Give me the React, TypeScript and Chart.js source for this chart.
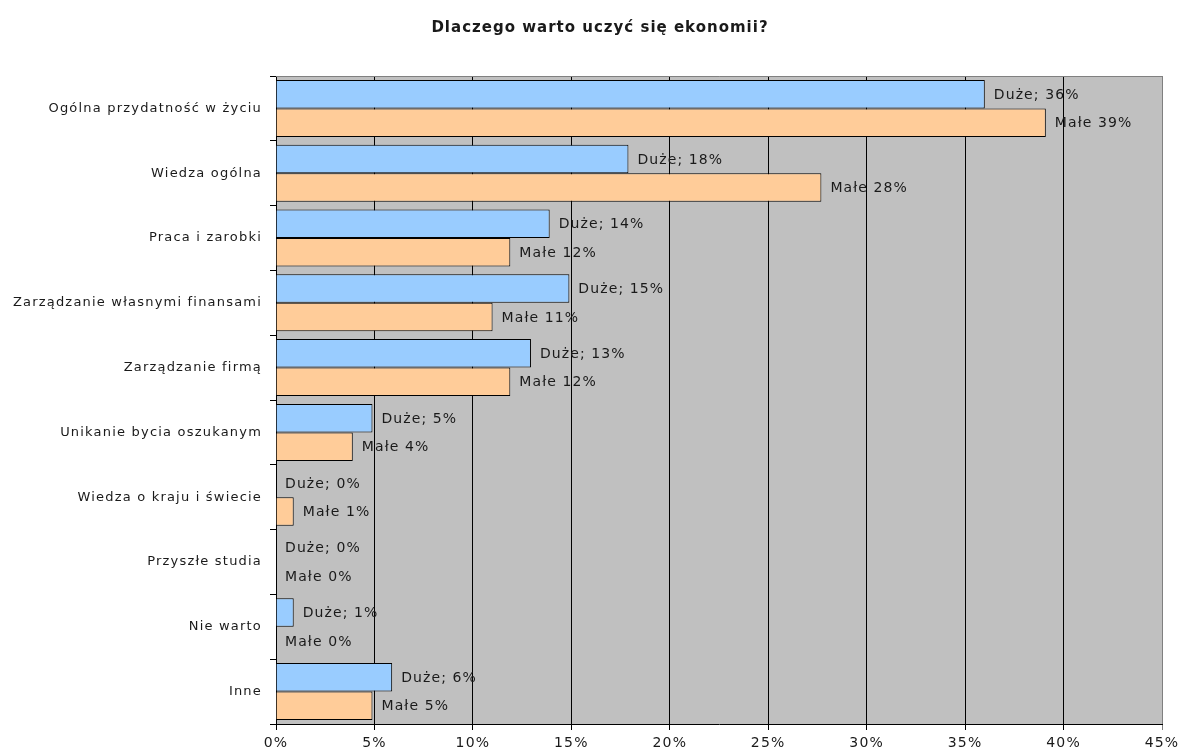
import React, { useEffect, useRef } from "react";
import { Chart, registerables } from "chart.js";

Chart.register(...registerables);

const title = "Dlaczego warto uczyć się ekonomii?";

const categories = [
  "Ogólna przydatność w życiu",
  "Wiedza ogólna",
  "Praca i zarobki",
  "Zarządzanie własnymi finansami",
  "Zarządzanie firmą",
  "Unikanie bycia oszukanym",
  "Wiedza o kraju i świecie",
  "Przyszłe studia",
  "Nie warto",
  "Inne",
];

const duzeValues = [36.0, 17.9, 13.9, 14.9, 12.95, 4.9, 0, 0, 0.9, 5.9];
const maleValues = [39.1, 27.7, 11.9, 11.0, 11.9, 3.9, 0.9, 0, 0, 4.9];

const duzeLabels = ["Duże; 36%", "Duże; 18%", "Duże; 14%", "Duże; 15%", "Duże; 13%", "Duże; 5%", "Duże; 0%", "Duże; 0%", "Duże; 1%", "Duże; 6%"];
const maleLabels = ["Małe 39%", "Małe 28%", "Małe 12%", "Małe 11%", "Małe 12%", "Małe 4%", "Małe 1%", "Małe 0%", "Małe 0%", "Małe 5%"];

const xTicks = [0, 5, 10, 15, 20, 25, 30, 35, 40, 45];

const FONT = "'DejaVu Sans', Verdana, sans-serif";

const plotBg = {
  id: "plotBg",
  beforeDraw(chart: any) {
    const { ctx, chartArea: a } = chart;
    (ctx as any).letterSpacing = "1.2px";
    ctx.save();
    ctx.fillStyle = "#c0c0c0";
    ctx.fillRect(a.left, a.top, a.right - a.left, a.bottom - a.top);
    ctx.restore();
  },
  afterDraw(chart: any) {
    const { ctx, chartArea: a } = chart;
    ctx.save();
    ctx.strokeStyle = "#808080";
    ctx.lineWidth = 1;
    ctx.beginPath();
    ctx.moveTo(a.left, a.top + 0.5);
    ctx.lineTo(a.right + 0.5, a.top + 0.5);
    ctx.lineTo(a.right + 0.5, a.bottom);
    ctx.stroke();
    (ctx as any).letterSpacing = "1px";
    ctx.font = `bold 15px ${FONT}`;
    ctx.fillStyle = "#1a1a1a";
    ctx.textAlign = "center";
    ctx.textBaseline = "middle";
    ctx.fillText(title, 600, 28);
    ctx.restore();
  },
};

const barLabels = {
  id: "barLabels",
  afterDatasetsDraw(chart: any) {
    const { ctx } = chart;
    ctx.save();
    (ctx as any).letterSpacing = "1.1px";
    ctx.font = `14px ${FONT}`;
    ctx.fillStyle = "#1a1a1a";
    ctx.textBaseline = "middle";
    ctx.textAlign = "left";
    const texts = [duzeLabels, maleLabels];
    chart.data.datasets.forEach((_: any, di: number) => {
      const meta = chart.getDatasetMeta(di);
      meta.data.forEach((bar: any, i: number) => {
        const x = Math.max(bar.x, bar.base) + 9;
        ctx.fillText(texts[di][i], x, bar.y + 1);
      });
    });
    ctx.restore();
  },
};

export default function App() {
  const ref = useRef<HTMLCanvasElement>(null);
  useEffect(() => {
    document.body.style.margin = "0";
    const chart = new Chart(ref.current!, {
      type: "bar",
      data: {
        labels: categories,
        datasets: [
          {
            label: "Duże",
            data: duzeValues,
            backgroundColor: "#99ccff",
            borderColor: "#000000",
            borderWidth: 1,
            barPercentage: 1,
            categoryPercentage: 0.88,
          },
          {
            label: "Małe",
            data: maleValues,
            backgroundColor: "#ffcc99",
            borderColor: "#000000",
            borderWidth: 1,
            barPercentage: 1,
            categoryPercentage: 0.88,
          },
        ],
      },
      options: {
        indexAxis: "y",
        animation: false,
        responsive: false,
        maintainAspectRatio: false,
        layout: { padding: { left: 0, right: 17, top: 76, bottom: 0 } },
        plugins: {
          legend: { display: false },
          tooltip: { enabled: false },
          title: { display: false },
        },
        scales: {
          x: {
            type: "linear",
            min: 0,
            max: 45,
            afterBuildTicks(scale: any) {
              scale.ticks = xTicks.map((v) => ({ value: v }));
            },
            afterFit(scale: any) {
              scale.height = 30;
              scale.paddingLeft = 0;
              scale.paddingRight = 0;
            },
            ticks: {
              callback: (v: any) => v + "%",
              color: "#1a1a1a",
              font: { family: FONT, size: 14 },
              padding: 5,
              maxRotation: 0,
            },
            grid: {
              color: (c: any) => (c.index === 9 ? "#808080" : "#000000"),
              lineWidth: 1,
              tickLength: 6,
              drawOnChartArea: true,
            },
            border: { display: true, color: "#000000" },
          },
          y: {
            type: "category",
            afterFit(scale: any) {
              scale.width = 276;
            },
            ticks: {
              color: "#1a1a1a",
              font: { family: FONT, size: 13 },
              padding: 8,
            },
            grid: {
              offset: true,
              drawOnChartArea: false,
              drawTicks: true,
              tickLength: 6,
              color: "#000000",
            },
            border: { display: true, color: "#000000" },
          },
        },
      },
      plugins: [plotBg, barLabels],
    });
    return () => chart.destroy();
  }, []);
  return (
    <div style={{ width: 1179, height: 754, background: "#ffffff" }}>
      <canvas ref={ref} width={1179} height={754} style={{ display: "block" }} />
    </div>
  );
}
